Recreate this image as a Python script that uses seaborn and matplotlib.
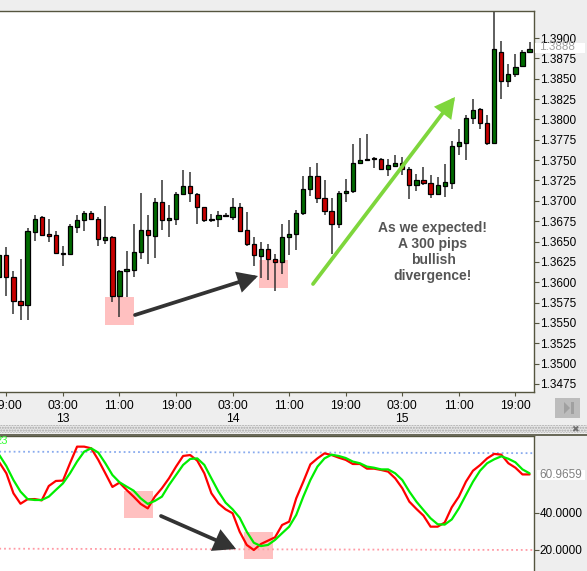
import numpy as np
import matplotlib
matplotlib.use('Agg')
import matplotlib.pyplot as plt
from matplotlib.patches import Rectangle, Polygon
import seaborn as sns

# hourly candles
opens = [1.3607, 1.3633, 1.3607, 1.3577, 1.3572, 1.3662, 1.3680, 1.3659, 1.3658, 1.3636,
         1.3635, 1.3668, 1.3676, 1.3685, 1.3678, 1.3652, 1.3655, 1.3583, 1.3614, 1.3615,
         1.3637, 1.3664, 1.3657, 1.3699, 1.3677, 1.3678, 1.3708, 1.3718, 1.3708, 1.3692,
         1.3677, 1.3678, 1.3683, 1.3680, 1.3693, 1.3664, 1.3647, 1.3632, 1.3641, 1.3629,
         1.3625, 1.3656, 1.3659, 1.3685, 1.3714, 1.3730, 1.3704, 1.3688, 1.3672, 1.3709,
         1.3712, 1.3746, 1.3750, 1.3753, 1.3751, 1.3739, 1.3743, 1.3746, 1.3739, 1.3719,
         1.3726, 1.3722, 1.3708, 1.3718, 1.3722, 1.3767, 1.3771, 1.3802, 1.3813, 1.3795,
         1.3771, 1.3883, 1.3847, 1.3856, 1.3866, 1.3883]
closes = [1.3633, 1.3607, 1.3577, 1.3572, 1.3663, 1.3678, 1.3658, 1.3657, 1.3636, 1.3635,
          1.3669, 1.3676, 1.3685, 1.3678, 1.3653, 1.3655, 1.3583, 1.3614, 1.3616, 1.3637,
          1.3664, 1.3658, 1.3699, 1.3677, 1.3679, 1.3708, 1.3718, 1.3709, 1.3692, 1.3677,
          1.3678, 1.3683, 1.3681, 1.3693, 1.3663, 1.3647, 1.3634, 1.3641, 1.3629, 1.3625,
          1.3656, 1.3659, 1.3685, 1.3714, 1.3730, 1.3704, 1.3688, 1.3672, 1.3709, 1.3712,
          1.3746, 1.3750, 1.3751, 1.3751, 1.3739, 1.3744, 1.3746, 1.3739, 1.3719, 1.3726,
          1.3722, 1.3708, 1.3719, 1.3723, 1.3767, 1.3772, 1.3802, 1.3811, 1.3795, 1.3771,
          1.3886, 1.3847, 1.3856, 1.3865, 1.3883, 1.3887]
highs = [1.3652, 1.3643, 1.3614, 1.3628, 1.3667, 1.3683, 1.3681, 1.3678, 1.3663, 1.3644,
         1.3672, 1.3682, 1.3688, 1.3687, 1.3680, 1.3694, 1.3657, 1.3615, 1.3638, 1.3672,
         1.3709, 1.3682, 1.3704, 1.3726, 1.3695, 1.3711, 1.3738, 1.3735, 1.3710, 1.3692,
         1.3684, 1.3687, 1.3685, 1.3704, 1.3697, 1.3686, 1.3655, 1.3650, 1.3647, 1.3635,
         1.3672, 1.3676, 1.3689, 1.3730, 1.3741, 1.3746, 1.3725, 1.3704, 1.3712, 1.3727,
         1.3770, 1.3777, 1.3782, 1.3754, 1.3752, 1.3751, 1.3756, 1.3754, 1.3741, 1.3733,
         1.3741, 1.3732, 1.3729, 1.3745, 1.3774, 1.3788, 1.3805, 1.3825, 1.3814, 1.3805,
         1.3933, 1.3896, 1.3868, 1.3880, 1.3885, 1.3895]
lows = [1.3607, 1.3583, 1.3561, 1.3554, 1.3554, 1.3651, 1.3657, 1.3649, 1.3635, 1.3620,
        1.3634, 1.3661, 1.3663, 1.3676, 1.3644, 1.3647, 1.3576, 1.3557, 1.3582, 1.3606,
        1.3629, 1.3622, 1.3630, 1.3664, 1.3656, 1.3670, 1.3708, 1.3699, 1.3671, 1.3674,
        1.3674, 1.3668, 1.3680, 1.3676, 1.3662, 1.3645, 1.3620, 1.3605, 1.3603, 1.3589,
        1.3610, 1.3633, 1.3639, 1.3682, 1.3706, 1.3697, 1.3683, 1.3635, 1.3667, 1.3699,
        1.3710, 1.3746, 1.3749, 1.3740, 1.3738, 1.3730, 1.3743, 1.3732, 1.3702, 1.3712,
        1.3720, 1.3704, 1.3707, 1.3705, 1.3715, 1.3756, 1.3750, 1.3794, 1.3788, 1.3769,
        1.3771, 1.3825, 1.3840, 1.3852, 1.3865, 1.3883]

# stochastic lines, one value per candle
stoch_red = [67.0, 61.1, 50.4, 44.8, 47.2, 47.3, 46.6, 54.3, 57.0, 57.2,
             66.5, 75.4, 75.4, 74.5, 68.3, 61.1, 53.8, 56.1, 52.2, 48.6,
             44.7, 42.3, 48.6, 53.1, 58.4, 64.7, 70.4, 70.9, 67.9, 61.1,
             50.4, 45.0, 41.8, 39.7, 29.8, 22.7, 20.0, 23.2, 25.0, 26.8,
             33.4, 35.2, 47.7, 56.6, 65.9, 69.1, 71.8, 70.9, 69.5, 68.3,
             66.1, 66.1, 63.6, 63.6, 62.9, 62.0, 58.4, 53.1, 45.9, 42.0,
             38.4, 32.5, 32.5, 34.7, 42.9, 48.6, 56.6, 62.5, 65.5, 69.1,
             71.5, 71.1, 66.5, 64.1, 60.5, 60.5]
stoch_green = [70.9, 65.0, 57.5, 51.3, 47.3, 46.8, 46.8, 48.6, 52.2, 55.7,
               61.1, 67.4, 72.7, 74.5, 72.2, 66.5, 60.2, 56.3, 54.0, 51.8,
               47.7, 44.7, 46.3, 48.6, 54.8, 60.2, 65.6, 68.8, 69.1, 65.6,
               58.4, 51.3, 45.4, 41.8, 37.3, 29.8, 23.9, 22.1, 22.7, 25.4,
               29.0, 32.5, 38.8, 48.6, 57.5, 64.7, 69.1, 71.1, 70.4, 69.3,
               67.4, 66.5, 64.7, 64.1, 63.2, 63.2, 61.1, 57.5, 51.3, 45.9,
               41.4, 37.0, 33.8, 33.6, 36.4, 42.3, 49.5, 56.6, 62.5, 66.5,
               68.6, 70.2, 68.9, 67.0, 63.2, 61.1]

level_x = [0, 76]
level_high = [72.7, 71.9]
level_low = [20.7, 20.0]

price_ticks = [1.3475, 1.35, 1.3525, 1.355, 1.3575, 1.36, 1.3625, 1.365, 1.3675, 1.37,
               1.3725, 1.375, 1.3775, 1.38, 1.3825, 1.385, 1.3875, 1.39]
stoch_ticks = [20, 40]
time_pos = [1, 9, 17, 25, 33, 41, 49, 57, 65, 73]
time_labels = ['19:00', '03:00\n13', '11:00', '19:00', '03:00\n14', '11:00', '19:00', '03:00\n15', '11:00', '19:00']

W, H = 587, 571
sns.set_theme(style='white')
plt.rcParams['font.family'] = ['Liberation Sans', 'DejaVu Sans']

AXIS = '#55553f'
fig = plt.figure(figsize=(W / 100, H / 100), dpi=100, facecolor='#eeeeee')
ax = fig.add_axes([0, (H - 392) / H, 534 / W, 381 / H])
ax2 = fig.add_axes([0, 0, 534 / W, 135 / H])


def px_box(x0, y0, x1, y1, **kw):
    # rectangle given in image pixels, y from the top
    return Rectangle((x0 / W, 1 - y1 / H), (x1 - x0) / W, (y1 - y0) / H, transform=fig.transFigure, **kw)


def px_arrow(target, tail, tip, color, scale):
    target.annotate('', xy=(tip[0], H - tip[1]), xytext=(tail[0], H - tail[1]),
                    xycoords='figure pixels', textcoords='figure pixels', annotation_clip=False,
                    arrowprops=dict(arrowstyle='-|>,head_length=0.62,head_width=0.33', color=color, lw=2.7,
                                    mutation_scale=scale, shrinkA=0, shrinkB=0, joinstyle='miter'),
                    zorder=6)


def px_text(x, y, s, **kw):
    return fig.text(x / W, 1 - y / H, s, **kw)


# candles
hours = np.arange(len(opens))
up = np.array(closes) >= np.array(opens)
body_colors = np.where(up, '#006a00', '#c80000')
ax.vlines(hours, lows, highs, color='#333333', lw=1.1, zorder=2)
ax.bar(hours, np.abs(np.array(closes) - np.array(opens)), bottom=np.minimum(opens, closes), width=0.6,
       color=body_colors, edgecolor='black', linewidth=0.9, zorder=3)
ax.set_xlim(0.1, 75.63)
ax.set_ylim(1.34651, 1.39332)
ax.set_yticks(price_ticks)
ax.set_yticklabels(['%.4f' % p for p in price_ticks])
ax.set_xticks(time_pos)
ax.set_xticklabels(time_labels, linespacing=1.2, va='top')

# stochastic panel
sns.lineplot(x=level_x, y=level_high, ax=ax2, color='#88aaee', lw=1.3, ls=':', estimator=None, zorder=2)
sns.lineplot(x=level_x, y=level_low, ax=ax2, color='#ff9aa5', lw=1.3, ls=':', estimator=None, zorder=2)
sns.lineplot(x=hours, y=stoch_red, ax=ax2, color='#ff0000', lw=1.6, estimator=None, zorder=4)
sns.lineplot(x=hours, y=stoch_green, ax=ax2, color='#00ee00', lw=1.6, estimator=None, zorder=5)
ax2.set_xlim(0.1, 75.63)
ax2.set_ylim(8.74, 81.1)
ax2.set_xticks([])
ax2.set_yticks(stoch_ticks)
ax2.set_yticklabels(['%.4f' % s for s in stoch_ticks])
ax2.set_xlabel('')
ax2.set_ylabel('')

for a in (ax, ax2):
    a.set_facecolor('white')
    a.yaxis.tick_right()
    a.tick_params(axis='y', length=3.4, width=0.8, color=AXIS, pad=0.6, labelsize=8.5, labelcolor='black')
    a.spines['left'].set_visible(False)
    a.spines['bottom'].set_visible(a is ax)
    for s in a.spines.values():
        s.set_color(AXIS)
        s.set_linewidth(1.0)
ax.tick_params(axis='x', bottom=True, length=3, width=0.8, color=AXIS, pad=2.5, labelsize=8.7, labelcolor='black')

# pink highlight boxes
ax.add_patch(px_box(105, 297, 134, 325, color='#ffc0c0', lw=0, zorder=1))
ax.add_patch(px_box(259, 260, 287.5, 287.5, color='#ffc0c0', lw=0, zorder=1))
ax2.add_patch(px_box(124, 491, 153, 518, color='#ffc0c0', lw=0, zorder=1))
ax2.add_patch(px_box(244, 532, 272.5, 559, color='#ffc0c0', lw=0, zorder=1))

# arrows
px_arrow(ax, (135, 315), (258, 276), '#333333', 17)
px_arrow(ax, (313, 284), (455, 97), '#7ed63c', 17)
px_arrow(ax2, (161, 516), (236, 549), '#333333', 19)

ax.text(433 / 534, (392 - 252) / 381, 'As we expected!\nA 300 pips\nbullish\ndivergence!', transform=ax.transAxes,
        ha='center', va='center', fontsize=10, fontweight='bold', color='#555555', linespacing=1.17, zorder=7)

# last value boxes
fig.patches.append(px_box(535, 43, 585, 53, color='white', lw=0))
fig.patches.append(px_box(537, 470, 585, 480, color='white', lw=0))
px_text(539.3, 47.5, '1.3888', fontsize=8.5, color='#a0a0a0', va='center', ha='left', zorder=8)
px_text(539.3, 475, '60.9659', fontsize=8.5, color='#808080', va='center', ha='left', zorder=8)
px_text(8, 441, '23', fontsize=8, color='#33ff33', va='center', ha='right', zorder=8)

# separator strip and the scroll button
fig.patches.append(px_box(0, 425, 587, 433, facecolor='#e6e6e6', edgecolor='#a8a8a8', hatch='......', lw=0))
fig.patches.append(px_box(0, 434, 587, 435.5, color='#6a6a5a', lw=0))
fig.patches.append(px_box(555, 398, 580, 418, color='#bcbcbc', lw=0))
fig.patches.append(Polygon([(564 / W, 1 - 402 / H), (570 / W, 1 - 408 / H), (564 / W, 1 - 414 / H)],
                           closed=True, color='#a0a0a0', lw=0, transform=fig.transFigure))
fig.patches.append(px_box(571, 402, 574, 414, color='#a0a0a0', lw=0))
px_text(575, 430, '✖', fontsize=6.5, color='#707070', va='center', ha='center', zorder=8)

fig.savefig('out.png', dpi=100, facecolor=fig.get_facecolor())
